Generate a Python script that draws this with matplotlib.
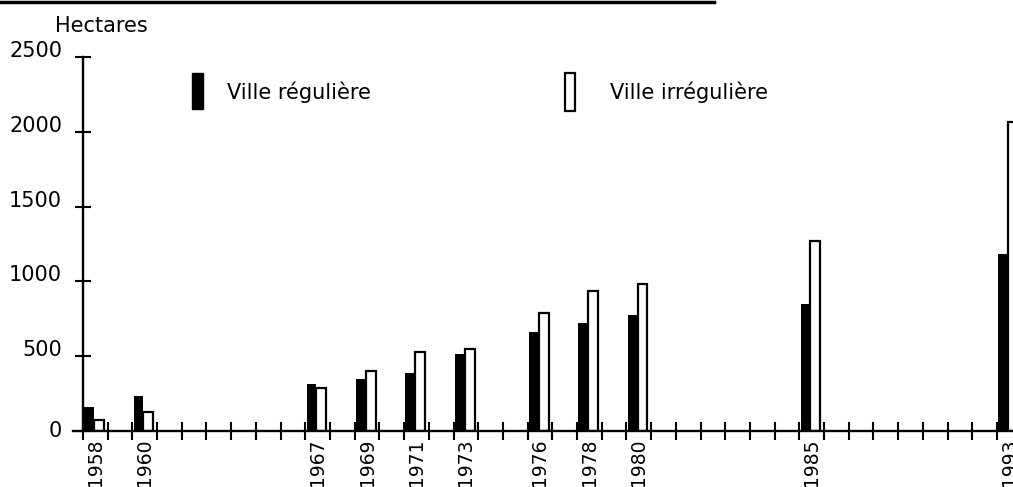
import numpy as np
import matplotlib
matplotlib.use("Agg")
import matplotlib.pyplot as plt
from matplotlib.patches import Rectangle
from matplotlib.lines import Line2D

years = ['1958', '1960', '1967', '1969', '1971', '1973', '1976', '1978', '1980', '1985', '1993']
# slot index of each year on the drawn axis (the printed axis is not strictly one slot per year)
slots = np.array([0, 2, 9, 11, 13, 15, 18, 20, 22, 29, 37])
reguliere = [160, 233, 313, 347, 387, 513, 660, 720, 773, 847, 1180]
irreguliere = [73, 127, 287, 400, 527, 547, 787, 933, 980, 1267, 2067]
n_slots = 38

plt.rcParams['font.family'] = ['DejaVu Sans']

fig = plt.figure(figsize=(10.13, 4.87), dpi=100)
W, H = 1013, 487
ax = fig.add_axes([73.1 / W, 56 / H, 939.9 / W, 374 / H])

ax.bar(slots + 0.25, reguliere, width=0.4, color='black', linewidth=0)
ax.bar(slots + 0.65, irreguliere, width=0.4, facecolor='white', edgecolor='black', linewidth=1.6)

ax.set_xlim(-0.4, 37.65)
ax.set_ylim(0, 2500)

for s in ['top', 'right']:
    ax.spines[s].set_visible(False)
ax.spines['left'].set_position(('data', 0))
ax.spines['left'].set_linewidth(1.7)
ax.spines['bottom'].set_linewidth(1.7)

ax.set_yticks([0, 500, 1000, 1500, 2000, 2500])
ax.tick_params(axis='y', direction='inout', length=11, width=1.5, pad=9.5, labelsize=15)
for lab in ax.get_yticklabels():
    lab.set_verticalalignment('baseline')
ax.get_yticklabels()[0].set_verticalalignment('center')

ax.set_xticks(np.arange(0, n_slots))
ax.set_xticklabels([])
ax.set_xticks(slots + 0.5, minor=True)
ax.set_xticklabels(years, minor=True, rotation=90, va='top', ha='center')
ax.tick_params(axis='x', which='major', direction='inout', length=13, width=1.5)
ax.tick_params(axis='x', which='minor', length=0, pad=5.5, labelsize=13.5)

# legend drawn by hand, in pixel positions of the original
fig.add_artist(Rectangle((192 / W, 378 / H), 11 / W, 36 / H, transform=fig.transFigure,
                         facecolor='black', edgecolor='black'))
fig.text(227 / W, 388 / H, 'Ville régulière', fontsize=15, va='baseline')
fig.add_artist(Rectangle((565 / W, 376 / H), 10 / W, 38 / H, transform=fig.transFigure,
                         facecolor='white', edgecolor='black', linewidth=1.6))
fig.text(610 / W, 388 / H, 'Ville irrégulière', fontsize=15, va='baseline')

fig.text(55 / W, 455 / H, 'Hectares', fontsize=15, va='baseline')

# cut-off rule at the top of the scan
fig.add_artist(Line2D([0, 714 / W], [485 / H, 485 / H], color='black', linewidth=2.5,
                      transform=fig.transFigure))

fig.savefig('out.png', dpi=100)
